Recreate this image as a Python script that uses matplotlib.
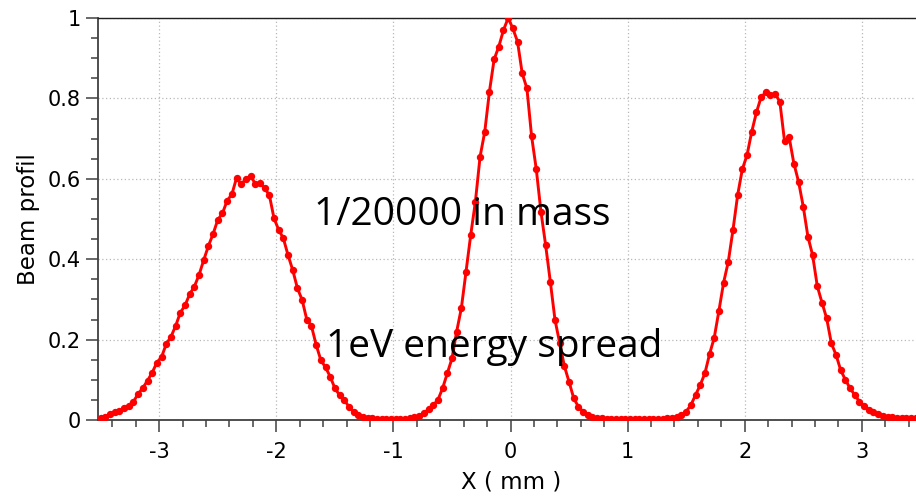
import numpy as np
import matplotlib
matplotlib.use("Agg")
import matplotlib.pyplot as plt
from matplotlib.ticker import MultipleLocator

# ---- data ----
x_start = -3.50
x_step = 0.04

left_peak = [0.004, 0.008, 0.015, 0.019, 0.023, 0.029, 0.036, 0.046, 0.065, 0.080,
             0.098, 0.118, 0.143, 0.157, 0.189, 0.207, 0.234, 0.267, 0.285, 0.313,
             0.332, 0.361, 0.398, 0.433, 0.463, 0.498, 0.514, 0.546, 0.561, 0.602,
             0.586, 0.600, 0.607, 0.588, 0.590, 0.576, 0.560, 0.502, 0.473, 0.452,
             0.410, 0.373, 0.328, 0.299, 0.250, 0.234, 0.187, 0.149, 0.131, 0.108,
             0.079, 0.062, 0.050, 0.033, 0.021, 0.012, 0.008, 0.006]
gap_1 = [0.004, 0.003, 0.003, 0.002, 0.002, 0.002, 0.002, 0.003, 0.004, 0.007, 0.011]
center_peak = [0.017, 0.027, 0.037, 0.050, 0.079, 0.116, 0.153, 0.220, 0.278, 0.369,
               0.460, 0.543, 0.655, 0.717, 0.817, 0.897, 0.929, 0.970, 1.000, 0.974,
               0.941, 0.862, 0.825, 0.706, 0.624, 0.518, 0.435, 0.344, 0.249, 0.192,
               0.134, 0.095, 0.054, 0.033, 0.021, 0.013, 0.008, 0.005]
gap_2 = [0.004, 0.003, 0.003, 0.003, 0.003, 0.003, 0.003, 0.003, 0.003, 0.003,
         0.003, 0.003, 0.003, 0.003, 0.004, 0.006]
right_peak = [0.008, 0.012, 0.021, 0.037, 0.062, 0.087, 0.116, 0.164, 0.205, 0.272,
              0.342, 0.394, 0.473, 0.560, 0.624, 0.659, 0.717, 0.765, 0.803, 0.815,
              0.808, 0.811, 0.792, 0.694, 0.703, 0.638, 0.593, 0.531, 0.456, 0.410,
              0.333, 0.292, 0.253, 0.191, 0.162, 0.124, 0.100, 0.079, 0.062, 0.046,
              0.035, 0.025, 0.019, 0.014, 0.010, 0.008, 0.007, 0.005, 0.005, 0.004,
              0.004, 0.004]

profile = np.array(left_peak + gap_1 + center_peak + gap_2 + right_peak)
x = np.round(x_start + x_step * np.arange(len(profile)), 3)

x_ticks = [-3, -2, -1, 0, 1, 2, 3]
y_ticks = [0, 0.2, 0.4, 0.6, 0.8, 1]
y_ticklabels = ["0", "0.2", "0.4", "0.6", "0.8", "1"]
notes = ["1/20000 in mass", "1eV energy spread"]

# ---- figure ----
W, H = 916, 497
fig = plt.figure(figsize=(W / 100, H / 100), dpi=100)
ax = fig.add_axes([98 / W, (H - 420) / H, (W - 98) / W, 402 / H])

ax.plot(x, profile, color="#ff0000", lw=2.1, marker="o", ms=5.3,
        markeredgewidth=0, clip_on=True, zorder=3)

ax.set_xlim(-3.523, 3.463)
ax.set_ylim(0, 1)
ax.set_xticks(x_ticks)
ax.set_xticklabels([str(t) for t in x_ticks])
ax.set_yticks(y_ticks)
ax.set_yticklabels(y_ticklabels)
ax.xaxis.set_minor_locator(MultipleLocator(0.2))
ax.yaxis.set_minor_locator(MultipleLocator(0.05))

ax.grid(True, which="major", linestyle=(0, (1, 2)), color="#b8b8b8", lw=0.9)
ax.tick_params(which="major", direction="out", length=8.5, width=1.1, color="#404040",
               labelsize=15)
ax.tick_params(axis="x", which="major", pad=7)
ax.tick_params(axis="y", which="major", pad=4)
ax.tick_params(which="minor", direction="out", length=5, width=1.1, color="#404040")
ax.tick_params(top=False, right=False, which="both")

for s in ["left", "bottom"]:
    ax.spines[s].set_color("#404040")
    ax.spines[s].set_linewidth(1.3)
ax.spines["top"].set_color("#202020")
ax.spines["top"].set_linewidth(1.0)
ax.spines["right"].set_visible(False)

ax.set_xlabel("X ( mm )", fontsize=16.5)
ax.set_ylabel("Beam profil", fontsize=16.5)
ax.xaxis.set_label_coords(0.505, -0.125)
ax.yaxis.set_label_coords(-0.071, 0.5)

ax.text(-1.675, 0.485, notes[0], fontsize=28, family="Open Sans", va="baseline",
        ha="left", zorder=4)
ax.text(-1.573, 0.157, notes[1], fontsize=28, family="Open Sans", va="baseline",
        ha="left", zorder=4)

fig.savefig("out.png", dpi=100)
